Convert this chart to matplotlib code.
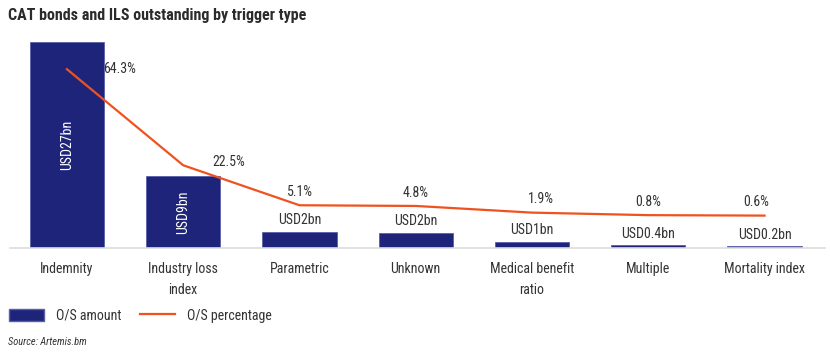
import matplotlib
matplotlib.use("Agg")
import matplotlib.pyplot as plt
from matplotlib import font_manager
from matplotlib.patches import Patch
from matplotlib.lines import Line2D

# pick a narrow family if one is installed
names = {f.name for f in font_manager.fontManager.ttflist}
narrow = [n for n in ["Liberation Sans Narrow", "Roboto Condensed", "Open Sans Condensed",
                      "DejaVu Sans Condensed", "Noto Sans Condensed"] if n in names]
plt.rcParams['font.family'] = narrow[:1] + ['Roboto', 'DejaVu Sans']
plt.rcParams['font.stretch'] = 'condensed'

categories = ["Indemnity", "Industry loss\nindex", "Parametric", "Unknown",
              "Medical benefit\nratio", "Multiple", "Mortality index"]
amount_bn = [27, 9.45, 2.14, 2.0, 0.8, 0.34, 0.25]
amount_labels = ["USD27bn", "USD9bn", "USD2bn", "USD2bn", "USD1bn", "USD0.4bn", "USD0.2bn"]
percentage = [64.3, 22.5, 5.1, 4.8, 1.9, 0.8, 0.6]

bar_color = "#1e2479"
line_color = "#f0521f"
text_color = "#333333"
fs = 10

fig = plt.figure(figsize=(8.3, 3.54), dpi=100)
ax = fig.add_axes([0.012, 0.2994, 0.982, 0.585])
x = list(range(len(categories)))

ax.bar(x, amount_bn, width=0.64, color=bar_color, edgecolor="#5a5fa8", linewidth=0.6)
ax.set_ylim(0, 27.2)
ax.set_xlim(-0.49, 6.52)
ax.set_yticks([])
ax.set_xticks(x)
ax.set_xticklabels(categories, fontsize=fs, color=text_color, linespacing=1.6)
ax.tick_params(axis='x', length=0, pad=10)
for s in ["top", "right", "left"]:
    ax.spines[s].set_visible(False)
ax.spines["bottom"].set_color("#dddddd")
ax.spines["bottom"].set_linewidth(1.2)

# bar value labels
for i, (v, lab) in enumerate(zip(amount_bn, amount_labels)):
    if v > 5:
        ax.text(i, v / 2, lab, rotation=90, ha="center", va="center",
                color="white", fontsize=fs)
    else:
        ax.text(i, v + 0.6, lab, ha="center", va="bottom",
                color=text_color, fontsize=fs)

ax2 = ax.twinx()
ax2.plot(x, percentage, color=line_color, linewidth=1.6)
ax2.set_ylim(-13.5, 76.6)
ax2.axis("off")

# first two labels sit to the right of the point, the rest above it
for i, p in enumerate(percentage):
    if i == 0:
        ax2.text(i + 0.31, p, f"{p}%", ha="left", va="center", color=text_color, fontsize=fs)
    elif i == 1:
        ax2.text(i + 0.25, p + 1.3, f"{p}%", ha="left", va="center", color=text_color, fontsize=fs)
    else:
        dx = {4: 0.08, 6: -0.07}.get(i, 0.0)
        ax2.text(i + dx, p + 2.8, f"{p}%", ha="center", va="bottom",
                 color=text_color, fontsize=fs)

fig.text(0.01, 0.955, "CAT bonds and ILS outstanding by trigger type",
         fontsize=11.5, fontweight="bold", color="#2b2b2b", va="center")

handles = [Patch(facecolor=bar_color, edgecolor="#5a5fa8", label="O/S amount"),
           Line2D([0], [0], color=line_color, linewidth=1.6, label="O/S percentage")]
fig.legend(handles=handles, loc="center left", bbox_to_anchor=(-0.004, 0.108),
           ncol=2, frameon=False, fontsize=fs, handlelength=2.5,
           handleheight=0.9, columnspacing=1.3, handletextpad=0.9,
           labelcolor=text_color)

fig.text(0.01, 0.035, "Source: Artemis.bm", fontsize=7.5, style="italic",
         color=text_color, va="center")

fig.savefig("out.png", dpi=100)
